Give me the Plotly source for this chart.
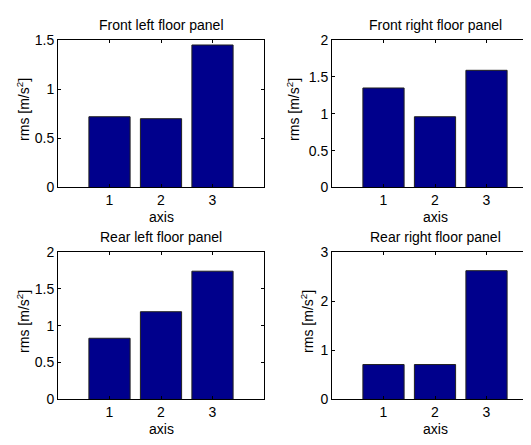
import plotly.graph_objects as go

# page has an 8px body margin, so the figure is offset by 8px
OFF = 8
W, H = 531 - OFF, 445 - OFF

categories = [1, 2, 3]
titles = ["Front left floor panel", "Front right floor panel",
          "Rear left floor panel", "Rear right floor panel"]
front_left = [0.72, 0.70, 1.45]
front_right = [1.35, 0.96, 1.59]
rear_left = [0.83, 1.19, 1.74]
rear_right = [0.71, 0.71, 2.62]
series = [front_left, front_right, rear_left, rear_right]
y_ranges = [[0, 1.5], [0, 2], [0, 2], [0, 3]]
y_ticks = [[0, 0.5, 1, 1.5], [0, 0.5, 1, 1.5, 2], [0, 0.5, 1, 1.5, 2], [0, 1, 2, 3]]
y_ticklabels = [["0", "0.5", "1", "1.5"], ["0", "0.5", "1", "1.5", "2"],
                ["0", "0.5", "1", "1.5", "2"], ["0", "1", "2", "3"]]

BAR = "#00008C"
FONT = "Arial"
FS = 14

def px(x):
    return (x - OFF) / W

def py(y):
    return 1 - (y - OFF) / H

# plot-area boxes in page pixels (left, right, top, bottom)
boxes = [(58, 264, 33, 186), (332, 531, 33, 186),
         (58, 264, 253, 406), (332, 531, 253, 406)]
unit = (264 - 58) / 4.0
x_ranges = [[0, 4], [0, (531 - 332) / unit], [0, 4], [0, (531 - 332) / unit]]
ytitle_x = [23, 293, 23, 307]

fig = go.Figure()
annotations = []
for i in range(4):
    n = "" if i == 0 else str(i + 1)
    l, r, t, b = boxes[i]
    fig.add_trace(go.Bar(x=categories, y=series[i], width=0.8,
                         marker=dict(color=BAR, line=dict(color="#202020", width=1)),
                         xaxis="x" + n, yaxis="y" + n, showlegend=False))
    right_clipped = (i % 2 == 1)
    fig.update_layout(**{
        "xaxis" + n: dict(domain=[px(l), px(r)], range=x_ranges[i], anchor="y" + n,
                          tickvals=categories, ticktext=[str(c) for c in categories],
                          ticks="inside", ticklen=3, tickcolor="black",
                          showline=True, linecolor="black", linewidth=1,
                          mirror="ticks", showgrid=False, zeroline=False,
                          tickfont=dict(family=FONT, size=FS, color="black"),
                          fixedrange=True),
        "yaxis" + n: dict(domain=[py(b), py(t)], range=y_ranges[i], anchor="x" + n,
                          tickvals=y_ticks[i], ticktext=y_ticklabels[i],
                          ticks="inside", ticklen=3, tickcolor="black",
                          showline=True, linecolor="black", linewidth=1,
                          mirror=("ticks" if not right_clipped else False),
                          showgrid=False, zeroline=False,
                          tickfont=dict(family=FONT, size=FS, color="black"),
                          fixedrange=True),
    })
    cx = (l + (l + 4 * unit)) / 2
    annotations.append(dict(text=titles[i], x=px(cx), y=py(t - 16), xref="paper", yref="paper",
                            xanchor="center", yanchor="middle", showarrow=False,
                            font=dict(family=FONT, size=FS, color="black")))
    annotations.append(dict(text="axis", x=px(cx), y=py(b + 31), xref="paper", yref="paper",
                            xanchor="center", yanchor="middle", showarrow=False,
                            font=dict(family=FONT, size=FS, color="black")))
    annotations.append(dict(text="rms [m/s<sup>2</sup>]", x=px(ytitle_x[i]), y=py((t + b) / 2 - 4),
                            xref="paper", yref="paper", textangle=-90,
                            xanchor="center", yanchor="middle", showarrow=False,
                            font=dict(family=FONT, size=FS, color="black")))

fig.update_layout(width=W, height=H, margin=dict(l=0, r=0, t=0, b=0),
                  paper_bgcolor="white", plot_bgcolor="white",
                  annotations=annotations, bargap=0.2)
fig.write_html("out.html")
